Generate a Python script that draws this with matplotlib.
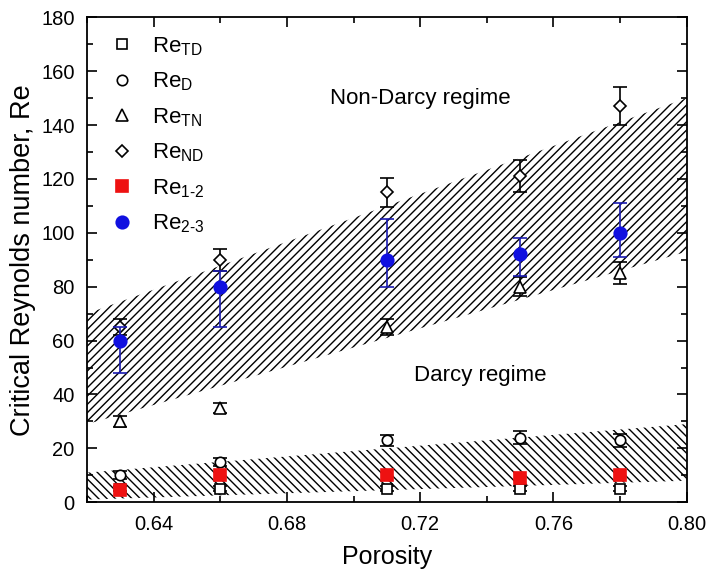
import matplotlib.pyplot as plt
import numpy as np
from matplotlib.ticker import MultipleLocator

plt.rcParams['font.family'] = ['Liberation Sans', 'DejaVu Sans']
plt.rcParams['mathtext.fontset'] = 'custom'
plt.rcParams['mathtext.rm'] = 'Liberation Sans'
plt.rcParams['hatch.linewidth'] = 1.0

porosity = [0.63, 0.66, 0.71, 0.75, 0.78]

re_td = [5, 5, 5, 5, 5]
re_td_err = [1, 1, 1, 1, 1]
re_d = [10, 15, 23, 24, 23]
re_d_err = [1.5, 1.5, 2, 2.5, 2.5]
re_tn = [30, 35, 65, 80, 85]
re_tn_err = [2, 2, 3, 3.5, 4]
re_nd = [65, 90, 115, 121, 147]
re_nd_err = [3, 4, 5.5, 6, 7]
re_12 = [4.5, 10, 10, 9, 10]
re_23 = [60, 80, 90, 92, 100]
re_23_lo = [12, 15, 10, 8, 9]
re_23_hi = [5, 6, 15, 6, 11]

# regime bands
band_x = [0.62, 0.71, 0.80]
nd_upper = [70, 110, 150]
nd_lower = [29, 61, 93]
d_upper = [11, 20, 29]
d_lower = [1, 4.5, 8]

fig = plt.figure(figsize=(7.08, 5.74), dpi=100)
ax = fig.add_axes([0.123, 0.125, 0.847, 0.845])

ax.fill_between(band_x, nd_lower, nd_upper, facecolor='none', edgecolor='black', hatch='////', linewidth=0)
ax.fill_between(band_x, d_lower, d_upper, facecolor='none', edgecolor='black', hatch='\\\\\\\\', linewidth=0)

series = [
    (re_td, re_td_err, 's', 7, 'white', 'black', 'black', r'Re$_{\mathrm{TD}}$'),
    (re_d, re_d_err, 'o', 7.5, 'white', 'black', 'black', r'Re$_{\mathrm{D}}$'),
    (re_tn, re_tn_err, '^', 8.5, 'white', 'black', 'black', r'Re$_{\mathrm{TN}}$'),
    (re_nd, re_nd_err, 'D', 6.5, 'white', 'black', 'black', r'Re$_{\mathrm{ND}}$'),
    (re_12, None, 's', 8, '#ee1111', '#ee1111', '#ee1111', r'Re$_{\mathrm{1\text{-}2}}$'),
    (re_23, [re_23_lo, re_23_hi], 'o', 9, '#1010e0', '#1010e0', '#1a1ab0', r'Re$_{\mathrm{2\text{-}3}}$'),
]
handles = []
for i, (y, err, m, ms, fc, ec, errc, lab) in enumerate(series):
    if err is not None:
        ax.errorbar(porosity, y, yerr=err, fmt='none', ecolor=errc, zorder=3 + i,
                    capsize=5, elinewidth=1.2, capthick=1.2)
    h, = ax.plot(porosity, y, linestyle='none', marker=m, ms=ms, mfc=fc, mec=ec,
                 mew=1.2, zorder=3 + i, label=lab)
    handles.append(h)

ax.text(0.72, 150, 'Non-Darcy regime', fontsize=16, ha='center', va='center')
ax.text(0.738, 47, 'Darcy regime', fontsize=16, ha='center', va='center')

ax.set_xlim(0.62, 0.80)
ax.set_ylim(0, 180)
ax.xaxis.set_major_locator(MultipleLocator(0.04))
ax.xaxis.set_minor_locator(MultipleLocator(0.02))
ax.yaxis.set_major_locator(MultipleLocator(20))
ax.yaxis.set_minor_locator(MultipleLocator(10))
ax.set_xticks(ax.get_xticks())
ax.set_xticklabels([f'{v:.2f}' for v in ax.get_xticks()])
ax.set_xlim(0.62, 0.80)
ax.tick_params(which='both', direction='in', top=True, right=True, labelsize=14.5, width=1.2)
ax.tick_params(which='major', length=7, pad=9)
ax.tick_params(which='minor', length=4)
for s in ax.spines.values():
    s.set_linewidth(1.3)

ax.set_xlabel('Porosity', fontsize=18, labelpad=8)
ax.set_ylabel('Critical Reynolds number, Re', fontsize=19.5, labelpad=4)

ax.legend(handles=handles, loc='upper left', frameon=False, fontsize=16, handletextpad=0.6,
          labelspacing=0.58, borderaxespad=0.4, handlelength=1.5)

fig.savefig('out.png', dpi=100)
